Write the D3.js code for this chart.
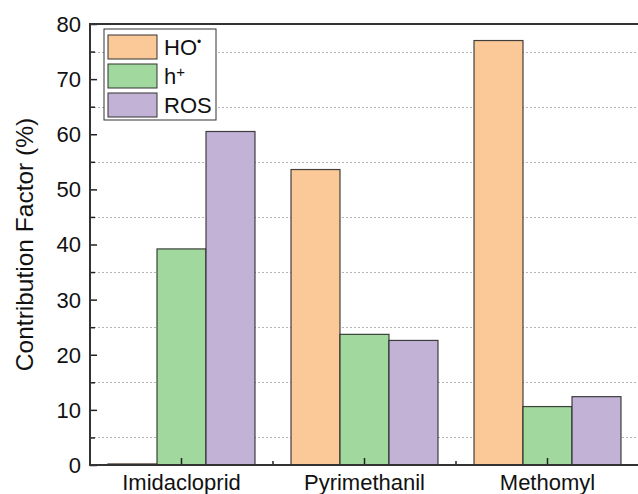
<!DOCTYPE html>
<html>
<head>
<meta charset="utf-8">
<script src="https://cdn.jsdelivr.net/npm/d3@7"></script>
<style>
  html, body { margin: 0; padding: 0; background: #fff; }
  svg { display: block; font-family: "Liberation Sans", Arial, sans-serif; }
</style>
</head>
<body>
<svg id="chart" width="638" height="494"></svg>
<script>
// Pesticides and the contribution of each reactive species (%)
const categories = ["Imidacloprid", "Pyrimethanil", "Methomyl"];
const seriesKeys = ["HO", "h", "ROS"];
const hoValues  = [0.2, 53.6, 77.0];
const hValues   = [39.2, 23.7, 10.6];
const rosValues = [60.5, 22.6, 12.4];
const majorTicks = [0, 10, 20, 30, 40, 50, 60, 70, 80];
const minorTicks = [5, 15, 25, 35, 45, 55, 65, 75];

const colors = { HO: "#fbc897", h: "#a0d89d", ROS: "#c2b2d6" };
const values = { HO: hoValues, h: hValues, ROS: rosValues };

const svg = d3.select("#chart");
const plotL = 90, plotR = 639, plotT = 24, plotB = 465;

const x = d3.scaleBand().domain(categories).range([plotL, plotR]).padding(0);
const xs = d3.scaleBand().domain(seriesKeys).range([18, x.bandwidth() - 18]).padding(0);
const y = d3.scaleLinear().domain([0, 80]).range([plotB, plotT]);

// dotted horizontal grid at the half-decades
svg.append("g").selectAll("line").data(minorTicks).join("line")
  .attr("x1", plotL).attr("x2", plotR)
  .attr("y1", d => Math.round(y(d)) + 0.5).attr("y2", d => Math.round(y(d)) + 0.5)
  .attr("stroke", "#b4b4b4").attr("stroke-width", 1)
  .attr("stroke-dasharray", "2,2");

// bars
const rows = categories.map((c, i) => ({ c, items: seriesKeys.map(k => ({ k, v: values[k][i] })) }));
svg.append("g").selectAll("g").data(rows).join("g")
  .attr("transform", d => `translate(${x(d.c)},0)`)
  .selectAll("rect").data(d => d.items).join("rect")
  .attr("x", d => xs(d.k))
  .attr("y", d => y(d.v))
  .attr("width", xs.bandwidth())
  .attr("height", d => y(0) - y(d.v))
  .attr("fill", d => colors[d.k])
  .attr("stroke", d => d.v < 1 ? "#3a2a22" : "#222")
  .attr("stroke-opacity", 0.85)
  .attr("stroke-width", 1.2);

// left axis, ticks pointing inward
svg.append("g").attr("transform", `translate(${plotL},0)`)
  .call(d3.axisRight(y).tickValues(majorTicks).tickSize(7).tickFormat(""))
  .call(g => g.select(".domain").remove())
  .call(g => g.selectAll(".tick line").attr("stroke", "#222").attr("stroke-width", 1.5));
svg.append("g").attr("transform", `translate(${plotL},0)`)
  .call(d3.axisRight(y).tickValues(minorTicks).tickSize(5).tickFormat(""))
  .call(g => g.select(".domain").remove())
  .call(g => g.selectAll(".tick line").attr("stroke", "#222").attr("stroke-width", 1.5));

svg.append("g").selectAll("text").data(majorTicks).join("text")
  .attr("x", plotL - 9).attr("y", d => y(d))
  .attr("dy", "0.36em").attr("text-anchor", "end")
  .attr("font-size", 22).attr("fill", "#111")
  .text(d => d);

// bottom axis: major ticks at category centres, minor at band edges
const bottomTicks = svg.append("g");
bottomTicks.selectAll("line.maj").data(categories).join("line").attr("class", "maj")
  .attr("x1", d => x(d) + x.bandwidth() / 2).attr("x2", d => x(d) + x.bandwidth() / 2)
  .attr("y1", plotB).attr("y2", plotB - 7)
  .attr("stroke", "#222").attr("stroke-width", 1.5);
bottomTicks.selectAll("line.min").data(categories.slice(1)).join("line").attr("class", "min")
  .attr("x1", d => x(d)).attr("x2", d => x(d))
  .attr("y1", plotB).attr("y2", plotB - 4)
  .attr("stroke", "#222").attr("stroke-width", 1.5);

svg.append("g").selectAll("text").data(categories).join("text")
  .attr("x", d => x(d) + x.bandwidth() / 2).attr("y", 490)
  .attr("text-anchor", "middle").attr("font-size", 22).attr("fill", "#111")
  .text(d => d);

// frame
svg.append("path")
  .attr("d", `M${plotL},${plotT}H${plotR}V${plotB}H${plotL}Z`)
  .attr("fill", "none").attr("stroke", "#333").attr("stroke-width", 2);

// y axis title
svg.append("text")
  .attr("transform", `translate(33,${(plotT + plotB) / 2}) rotate(-90)`)
  .attr("text-anchor", "middle").attr("font-size", 24.5).attr("fill", "#111")
  .text("Contribution Factor (%)");

// legend
const legend = svg.append("g").attr("transform", "translate(104,29)");
legend.append("rect").attr("x", 0).attr("y", 0).attr("width", 112).attr("height", 91)
  .attr("fill", "#fff").attr("stroke", "#333").attr("stroke-width", 1);
const entries = [
  { k: "HO", base: "HO", sup: "\u2022", size: 12, shift: "-0.75em" },
  { k: "h", base: "h", sup: "+", size: 15, shift: "-0.45em" },
  { k: "ROS", base: "ROS", sup: "", size: 12, shift: "0" }
];
const entry = legend.selectAll("g").data(entries).join("g")
  .attr("transform", (d, i) => `translate(4,${6 + i * 29})`);
entry.append("rect").attr("width", 49).attr("height", 24)
  .attr("fill", d => colors[d.k]).attr("stroke", "#333").attr("stroke-width", 1);
const lt = entry.append("text").attr("x", 56).attr("y", 12).attr("dy", "0.36em")
  .attr("font-size", 22).attr("fill", "#111");
lt.append("tspan").text(d => d.base);
lt.append("tspan").attr("dy", d => d.shift).attr("font-size", d => d.size).text(d => d.sup);
</script>
</body>
</html>
